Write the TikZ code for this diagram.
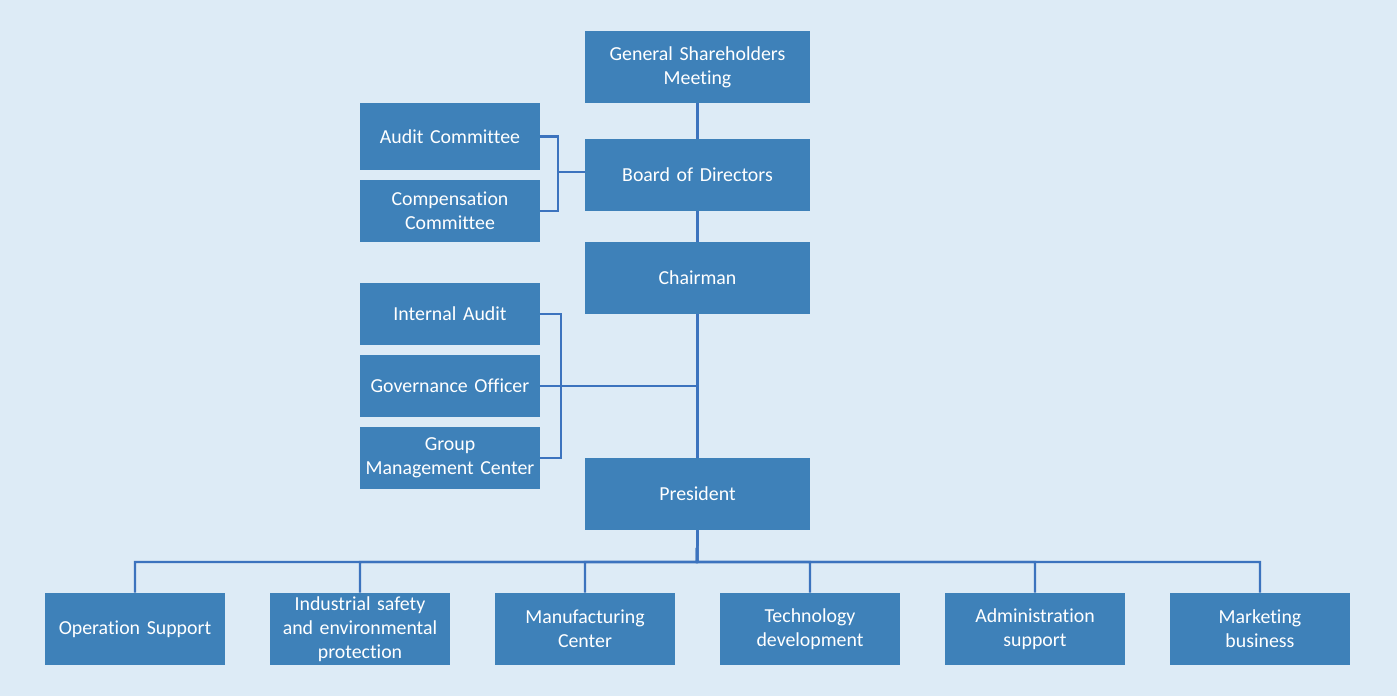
\documentclass[tikz,border=0pt]{standalone}
\usepackage{fontspec}
\setmainfont{Carlito}[Ligatures=NoCommon]
\definecolor{pagebg}{RGB}{221, 235, 246}
\definecolor{boxblue}{RGB}{62, 129, 185}
\definecolor{lineblue}{RGB}{60, 115, 190}
\usetikzlibrary{positioning}

\begin{document}
\begin{tikzpicture}[x=0.02cm, y=-0.02cm,
  unit/.style={fill=boxblue, text=white, inner sep=0pt, align=center,
    font=\fontsize{11.3}{13.7}\selectfont},
  topunit/.style={unit, minimum width=4.5cm, minimum height=1.44cm, text width=4.3cm},
  sideunit/.style={unit, minimum width=3.6cm, minimum height=1.24cm, text width=3.5cm},
  dept/.style={unit, minimum width=3.6cm, minimum height=1.44cm, text width=3.3cm},
  conn/.style={draw=lineblue, line width=1.4pt}]
  % Background
  \fill[pagebg] (0,0) rectangle (1397,696);
  \useasboundingbox (0,0) rectangle (1397,696);

  % Governance line
  \node[topunit] (gsm) at (697.5, 67) {General Shareholders\\Meeting};
  \node[topunit] (board) at (697.5, 175) {Board of Directors};
  \node[topunit] (chair) at (697.5, 278) {Chairman};
  \node[topunit] (pres) at (697.5, 494) {President};

  % Committees
  \node[sideunit, minimum height=1.34cm] (audit) at (450, 136.5) {Audit Committee};
  \node[sideunit] (comp) at (450, 211) {Compensation\\Committee};

  % Units under the chairman
  \node[sideunit] (intaudit) at (450, 314) {Internal Audit};
  \node[sideunit] (gov) at (450, 386) {Governance Officer};
  \node[sideunit] (gmc) at (450, 458) {Group\\Management Center};

  % Departments
  \node[dept] (ops) at (135, 629) {Operation Support};
  \node[dept] (safety) at (360, 629) {Industrial safety\\and environmental\\protection};
  \node[dept] (mfg) at (585, 629) {Manufacturing\\Center};
  \node[dept] (tech) at (810, 629) {Technology\\development};
  \node[dept] (admin) at (1035, 629) {Administration\\support};
  \node[dept] (mkt) at (1260, 629) {Marketing\\business};

  % Connectors
  \coordinate (cbrk) at (558, 172);
  \coordinate (abrk) at (561, 386);
  \coordinate (bus) at (697, 562);

  \draw[conn] (gsm) -- (board);
  \draw[conn] (board) -- (chair);
  \draw[conn] (chair) -- (pres);
  \draw[conn] (audit.east) -| (cbrk) |- (comp.east);
  \draw[conn] (cbrk) -- (cbrk -| board.west);
  \draw[conn] (intaudit.east) -| (abrk) |- (gmc.east);
  \draw[conn] (gov.east) -- (gov.east -| chair.south);
  \foreach \d in {ops, safety, mfg, tech, admin, mkt}
    \draw[conn] (pres.south) -- (bus) -| (\d.north);
\end{tikzpicture}
\end{document}
